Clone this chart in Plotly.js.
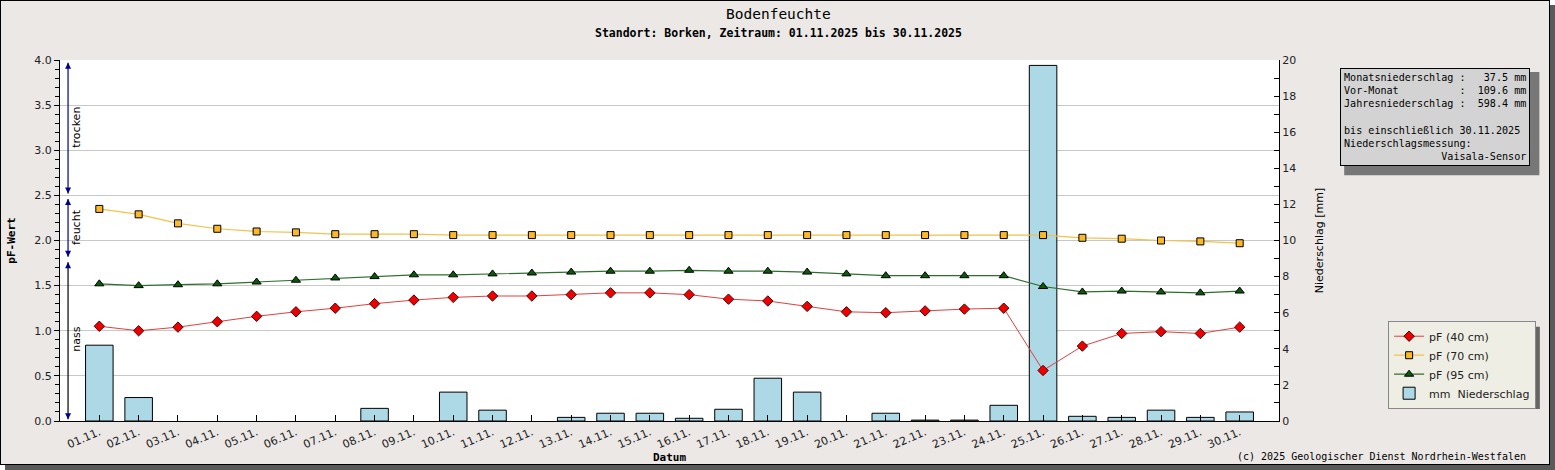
<!DOCTYPE html>
<html>
<head>
<meta charset="utf-8">
<script src="https://cdn.plot.ly/plotly-3.0.1.min.js"></script>
<style>
  body { margin: 0; background: #ffffff; }
  #rahmen {
    position: absolute; left: 0; top: 0;
    width: 1548px; height: 463px;
    border: 1px solid #000;
    box-shadow: 5px 5px 0 #5a5a5a;
    background: #ebe8e6;
  }
  #myDiv { width: 1548px; height: 463px; }
</style>
</head>
<body>
<div id="rahmen"><div id="myDiv"></div></div>
<script>
// Tage im November 2025
var tage = ["01.11.","02.11.","03.11.","04.11.","05.11.","06.11.","07.11.","08.11.","09.11.","10.11.",
            "11.11.","12.11.","13.11.","14.11.","15.11.","16.11.","17.11.","18.11.","19.11.","20.11.",
            "21.11.","22.11.","23.11.","24.11.","25.11.","26.11.","27.11.","28.11.","29.11.","30.11."];

// pF-Werte
var pf40 = [1.05,1.00,1.04,1.10,1.16,1.21,1.25,1.30,1.34,1.37,
            1.385,1.385,1.40,1.42,1.42,1.40,1.35,1.33,1.27,1.21,
            1.20,1.22,1.24,1.25,0.56,0.83,0.97,0.99,0.97,1.04];
var pf70 = [2.35,2.29,2.19,2.13,2.10,2.09,2.07,2.07,2.07,2.06,
            2.06,2.06,2.06,2.06,2.06,2.06,2.06,2.06,2.06,2.06,
            2.06,2.06,2.06,2.06,2.06,2.03,2.02,2.00,1.99,1.97];
var pf95 = [1.52,1.50,1.51,1.52,1.54,1.56,1.585,1.60,1.62,1.62,
            1.63,1.64,1.65,1.66,1.66,1.67,1.66,1.66,1.65,1.63,
            1.61,1.61,1.61,1.61,1.49,1.43,1.44,1.43,1.42,1.44];

// Niederschlag in mm
var niederschlag = [4.2,1.3,0,0,0,0,0,0.7,0,1.6,
                    0.6,0,0.2,0.43,0.43,0.15,0.65,2.37,1.6,0,
                    0.43,0.05,0.05,0.87,19.7,0.26,0.2,0.6,0.2,0.5];

// Feuchtebereiche (pF)
var bereiche = ["trocken","feucht","nass"];
var bereichVon = [2.5, 1.8, 0.0];
var bereichBis = [4.0, 2.5, 1.8];
var bereichFarbe = ["#00008b","#00008b","#000000"];

// Infokasten
var monatsNS = "37.5";
var vorMonat = "109.6";
var jahresNS = "598.4";
var stichtag = "30.11.2025";

var mono = "DejaVu Sans Mono";
var sans = "DejaVu Sans";
var blau = "#00008b";

// Tage ohne Niederschlag ohne Rahmen
var balkenRand = niederschlag.map(function(v){ return v > 0 ? 1 : 0; });

var traces = [
  {
    x: tage, y: pf40, name: "pF (40 cm)", type: "scatter", mode: "lines+markers", yaxis: "y2",
    line: {color: "#e04040", width: 1},
    marker: {symbol: "diamond", size: 8, color: "#ee0000", line: {color: "#500000", width: 1}}
  },
  {
    x: tage, y: pf70, name: "pF (70 cm)", type: "scatter", mode: "lines+markers", yaxis: "y2",
    line: {color: "#f2c24a", width: 1.2},
    marker: {symbol: "square", size: 7, color: "#fbb829", line: {color: "#000", width: 1}}
  },
  {
    x: tage, y: pf95, name: "pF (95 cm)", type: "scatter", mode: "lines+markers", yaxis: "y2",
    line: {color: "#2f6e2f", width: 1.2},
    marker: {symbol: "triangle-up", size: 8, color: "#0a5a0a", line: {color: "#000", width: 1}}
  },
  {
    x: tage, y: niederschlag, name: "mm  Niederschlag", type: "bar", yaxis: "y",
    width: 0.7,
    marker: {color: "#add8e6", line: {color: "#000", width: balkenRand}}
  }
];

var shapes = [];
var annotations = [];
var pfeilX = 0.0066;

for (var i = 0; i < bereiche.length; i++) {
  var unten = bereichVon[i] + 0.02;
  var oben = bereichBis[i] - (i == 0 ? 0.03 : 0.04);
  shapes.push({type: "line", xref: "paper", yref: "y2", x0: pfeilX, x1: pfeilX,
               y0: unten, y1: oben, line: {color: bereichFarbe[i], width: 1.2}});
  // Pfeilspitzen
  annotations.push({xref: "paper", yref: "y2", x: pfeilX, y: oben, ax: 0, ay: 7,
                    text: "", showarrow: true, arrowhead: 2, arrowsize: 1, arrowwidth: 1.2, arrowcolor: blau});
  annotations.push({xref: "paper", yref: "y2", x: pfeilX, y: unten, ax: 0, ay: -7,
                    text: "", showarrow: true, arrowhead: 2, arrowsize: 1, arrowwidth: 1.2, arrowcolor: blau});
  annotations.push({xref: "paper", yref: "y2", x: pfeilX, xshift: 9, xanchor: "center", yanchor: "middle",
                    y: (bereichVon[i] + bereichBis[i]) / 2,
                    text: bereiche[i], textangle: -90, showarrow: false,
                    font: {family: sans, size: 11, color: "#000"}});
}

var nb = "\u00a0";
function pad(s) { return s.replace(/ /g, nb); }
var infoText = [
  pad("Monatsniederschlag :   " + monatsNS + " mm"),
  pad("Vor-Monat          :  " + vorMonat + " mm"),
  pad("Jahresniederschlag :  " + jahresNS + " mm"),
  nb,
  pad("bis einschließlich " + stichtag),
  pad("Niederschlagsmessung:        "),
  pad("                Vaisala-Sensor")
].join("<br>");

// Schatten Infokasten und Legende
shapes.push({type: "rect", xref: "paper", yref: "paper", x0: 1.0535, x1: 1.2136, y0: 0.6806, y1: 0.9667,
             fillcolor: "#777", line: {width: 0}, layer: "below"});
shapes.push({type: "rect", xref: "paper", yref: "paper", x0: 1.0936, x1: 1.2140, y0: 0.0333, y1: 0.2611,
             fillcolor: "#666", line: {width: 0}, layer: "below"});

annotations.push({xref: "paper", yref: "paper", x: 1.0500, y: 0.978, xanchor: "left", yanchor: "top",
                  text: infoText, align: "left", showarrow: false,
                  bgcolor: "#d3d3d3", bordercolor: "#000", borderwidth: 1, borderpad: 3,
                  font: {family: mono, size: 10.1, color: "#000"}});

annotations.push({xref: "paper", yref: "paper", x: 0.5895, y: 1.128, xanchor: "center", yanchor: "middle",
                  text: "Bodenfeuchte",
                  showarrow: false, font: {family: mono, size: 14.5, color: "#000"}});
annotations.push({xref: "paper", yref: "paper", x: 0.5895, y: 1.0755, xanchor: "center", yanchor: "middle",
                  text: "<b>Standort: Borken, Zeitraum: 01.11.2025 bis 30.11.2025</b>",
                  showarrow: false, font: {family: mono, size: 11.5, color: "#000"}});
annotations.push({xref: "paper", yref: "paper", x: 1.2045, y: -0.097, xanchor: "right", yanchor: "middle",
                  text: "(c) 2025 Geologischer Dienst Nordrhein-Westfalen",
                  showarrow: false, font: {family: mono, size: 10, color: "#000"}});

var layout = {
  width: 1548, height: 463,
  margin: {l: 59, r: 270, t: 59, b: 43, pad: 0},
  paper_bgcolor: "#ebe8e6",
  plot_bgcolor: "#ffffff",
  font: {family: sans, size: 11, color: "#222"},
  showlegend: true,
  bargap: 0.3,
  xaxis: {
    type: "category", range: [-1, 30], fixedrange: true,
    showline: true, linecolor: "#000", linewidth: 1,
    ticks: "inside", ticklen: 6, tickcolor: "#000",
    tickangle: -23, tickfont: {family: sans, size: 11, color: "#222"},
    showgrid: false,
    title: {text: "<b>Datum</b>", font: {family: mono, size: 11, color: "#000"}, standoff: 2}
  },
  yaxis: {
    side: "right", range: [0, 20], dtick: 2,
    showline: true, linecolor: "#000", linewidth: 1,
    ticks: "inside", ticklen: 5, tickcolor: "#000",
    minor: {dtick: 1, ticks: "inside", ticklen: 5, tickcolor: "#000"},
    showgrid: false, zeroline: false,
    tickfont: {family: sans, size: 11, color: "#222"},
    title: {text: "Niederschlag [mm]", font: {family: sans, size: 11, color: "#000"}, standoff: 20}
  },
  yaxis2: {
    overlaying: "y", side: "left", range: [0, 4], dtick: 0.5, tickformat: ".1f",
    showline: true, linecolor: "#000", linewidth: 1,
    ticks: "outside", ticklen: 5, tickcolor: "#000",
    minor: {dtick: 0.1, ticks: "outside", ticklen: 4, tickcolor: "#000"},
    showgrid: true, gridcolor: "#c8c8c8", gridwidth: 1, zeroline: false,
    tickfont: {family: sans, size: 11, color: "#222"},
    title: {text: "<b>pF-Wert</b>", font: {family: mono, size: 11, color: "#000"}, standoff: 16}
  },
  legend: {
    x: 1.0895, y: 0.2778, xanchor: "left", yanchor: "top",
    bgcolor: "#eeeee4", bordercolor: "#888", borderwidth: 1,
    font: {family: sans, size: 11, color: "#222"},
    tracegroupgap: 0, itemwidth: 30
  },
  shapes: shapes,
  annotations: annotations
};

Plotly.newPlot('myDiv', traces, layout, {displayModeBar: false, staticPlot: true});
</script>
</body>
</html>
